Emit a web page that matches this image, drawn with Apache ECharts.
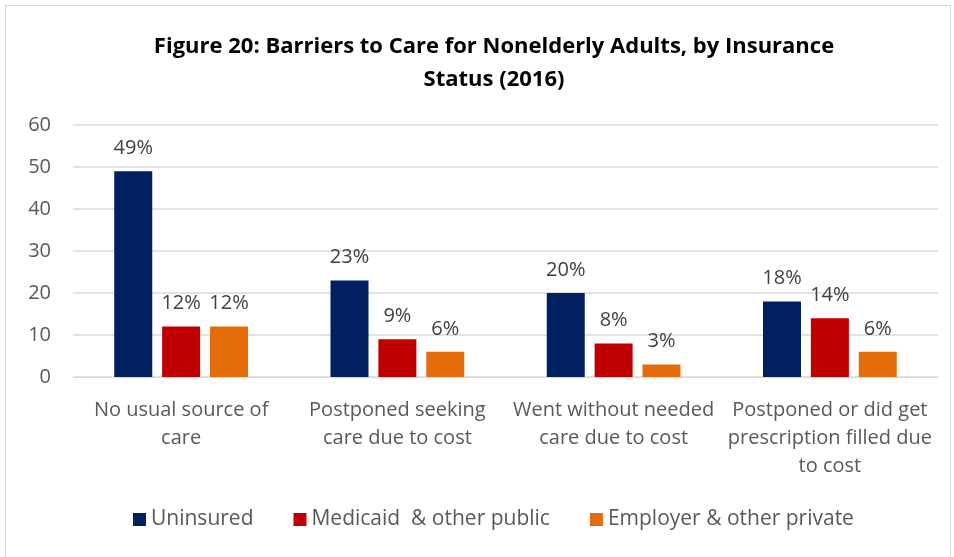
<!DOCTYPE html>
<html>
<head>
<meta charset="utf-8">
<script src="https://cdn.jsdelivr.net/npm/echarts@6/dist/echarts.min.js"></script>
<style>
  html, body { margin: 0; padding: 0; background: #fff; }
  #frame { position: absolute; left: 5px; top: 5px; width: 946px; height: 560px; border: 1px solid #d9d9d9; box-sizing: border-box; }
  #main { position: absolute; left: 0; top: 0; width: 954px; height: 557px; }
</style>
</head>
<body>
<div id="frame"></div>
<div id="main"></div>
<script>
var categories = [
  "No usual source of\ncare",
  "Postponed seeking\ncare due to cost",
  "Went without needed\ncare due to cost",
  "Postponed or did get\nprescription filled due\nto cost"
];
var seriesNames = ["Uninsured", "Medicaid  & other public", "Employer & other private"];
var uninsured = [49, 23, 20, 18];
var medicaid = [12, 9, 8, 14];
var employer = [12, 6, 3, 6];
var yTicks = [0, 10, 20, 30, 40, 50, 60];

var colors = ["#002060", "#C00000", "#E46C0A"];
var font = "Open Sans";

var chartDom = document.getElementById("main");
var myChart = echarts.init(chartDom);
var option;

function makeSeries(name, values, color) {
  return {
    name: name,
    type: "bar",
    data: values,
    barWidth: 38,
    barGap: "26%",
    itemStyle: { color: color },
    label: {
      show: true,
      position: "top",
      distance: 13,
      formatter: "{c}%",
      color: "#404040",
      fontFamily: font,
      fontSize: 20
    }
  };
}

option = {
  animation: false,
  title: {
    text: "Figure 20: Barriers to Care for Nonelderly Adults, by Insurance\nStatus (2016)",
    left: 489,
    textAlign: "center",
    top: 25,
    textStyle: {
      fontFamily: font,
      fontWeight: "bold",
      fontSize: 22,
      lineHeight: 33,
      color: "#000"
    }
  },
  legend: {
    bottom: 22,
    left: 128,
    itemWidth: 13,
    itemHeight: 13,
    itemGap: 40,
    icon: "rect",
    textStyle: { fontFamily: font, fontSize: 21, color: "#595959" },
    data: seriesNames
  },
  grid: { left: 73, right: 16, top: 125, bottom: 180, containLabel: false },
  xAxis: {
    type: "category",
    data: categories,
    axisTick: { show: false },
    axisLine: { lineStyle: { color: "#d9d9d9" } },
    axisLabel: {
      fontFamily: font,
      fontSize: 20,
      lineHeight: 28,
      color: "#595959",
      margin: 19,
      interval: 0
    }
  },
  yAxis: {
    type: "value",
    min: yTicks[0],
    max: yTicks[yTicks.length - 1],
    interval: 10,
    axisLine: { show: false },
    axisTick: { show: false },
    splitLine: { lineStyle: { color: "#d9d9d9", width: 1.5 } },
    axisLabel: { fontFamily: font, fontSize: 20, color: "#595959", margin: 22 }
  },
  series: [
    makeSeries(seriesNames[0], uninsured, colors[0]),
    makeSeries(seriesNames[1], medicaid, colors[1]),
    makeSeries(seriesNames[2], employer, colors[2])
  ]
};

option && myChart.setOption(option);
</script>
</body>
</html>
